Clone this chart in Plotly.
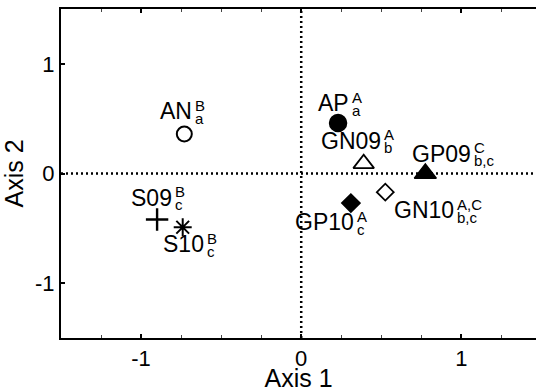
import plotly.graph_objects as go

# Ordination scores of each group on the first two axes
groups = ["AN", "AP", "GN09", "GP09", "GN10", "GP10", "S09", "S10"]
axis1 = [-0.73, 0.23, 0.39, 0.775, 0.525, 0.31, -0.90, -0.74]
axis2 = [0.36, 0.46, 0.09, 0.0, -0.17, -0.27, -0.42, -0.49]
sup_letters = ["B", "A", "A", "C", "A,C", "A", "B", "B"]
sub_letters = ["a", "a", "b", "b,c", "b,c", "c", "c", "c"]

symbols = ["circle-open", "circle", "triangle-up-open", "triangle-up",
           "diamond-open", "diamond", "cross-thin-open", "asterisk-open"]
sizes = [15, 17, 18, 19, 13, 14, 16, 15]
line_w = [2, 1.5, 1.8, 1.5, 1.8, 1.5, 2.4, 2.0]

# Label placement: (dx, dy) of the point where the name ends and the
# super/subscripts begin, in pixels relative to the marker (dy downwards)
label_offsets = [(10, -23), (13, -20), (19, -23), (48, -20),
                 (71, 18), (5, 19), (17, -22), (23, 17)]

FONT = "Liberation Sans, Arial, sans-serif"

fig = go.Figure()

# Dotted reference lines through the origin
fig.add_shape(type="line", xref="x", yref="y", x0=0, x1=0, y0=-1.5, y1=1.5,
              line=dict(color="black", width=2.5, dash="2px,3px"), layer="below")
fig.add_shape(type="line", xref="x", yref="y", x0=-1.5, x1=1.5, y0=0, y1=0,
              line=dict(color="black", width=2.5, dash="2px,3px"), layer="below")

for g, x, y, sym, sz, lw in zip(groups, axis1, axis2, symbols, sizes, line_w):
    fig.add_trace(go.Scatter(
        x=[x], y=[y], mode="markers", name=g, showlegend=False,
        marker=dict(symbol=sym, size=sz, color="black",
                    line=dict(color="black", width=lw)),
    ))

for g, x, y, sp, sb, (dx, dy) in zip(groups, axis1, axis2, sup_letters,
                                     sub_letters, label_offsets):
    fig.add_annotation(x=x, y=y, xref="x", yref="y", text=g, showarrow=False,
                       xanchor="right", yanchor="middle", xshift=dx, yshift=-dy,
                       font=dict(family=FONT, size=23, color="black"))
    fig.add_annotation(x=x, y=y, xref="x", yref="y", text=sp, showarrow=False,
                       xanchor="left", yanchor="middle", xshift=dx - 1,
                       yshift=-dy + 6,
                       font=dict(family=FONT, size=15, color="black"))
    fig.add_annotation(x=x, y=y, xref="x", yref="y", text=sb, showarrow=False,
                       xanchor="left", yanchor="middle", xshift=dx - 1,
                       yshift=-dy - 7,
                       font=dict(family=FONT, size=15, color="black"))

fig.update_layout(
    width=536, height=392,
    margin=dict(l=61, r=0, t=9, b=54),
    paper_bgcolor="white", plot_bgcolor="white",
    font=dict(family=FONT, color="black"),
    xaxis=dict(range=[-1.5, 1.466], tickvals=[-1, 0, 1], ticktext=["-1", "0", "1"],
               showgrid=False, zeroline=False, showline=True, linecolor="black",
               linewidth=2, mirror="ticks", ticks="inside", ticklen=4,
               tickcolor="black", tickwidth=1.5,
               minor=dict(dtick=0.25, tick0=0, ticks="inside", ticklen=3,
                          tickcolor="#444", tickwidth=1),
               tickfont=dict(size=22),
               title=dict(text="Axis 1", font=dict(size=25), standoff=2)),
    yaxis=dict(range=[-1.5, 1.5], tickvals=[-1, 0, 1], ticktext=["-1", "0", "1"],
               showgrid=False, zeroline=False, showline=True, linecolor="black",
               linewidth=2, ticks="inside", ticklen=4, tickcolor="black",
               tickwidth=1.5, tickfont=dict(size=22),
               title=dict(text="Axis 2", font=dict(size=25), standoff=6)),
)

fig.write_html("out.html")
